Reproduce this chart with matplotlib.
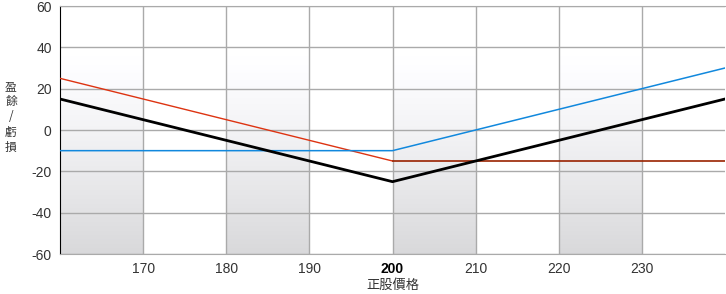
import matplotlib
matplotlib.use("Agg")
import matplotlib.pyplot as plt
import numpy as np

plt.rcParams['font.family'] = ['Liberation Sans', 'Noto Sans CJK TC', 'DejaVu Sans']
plt.rcParams['axes.unicode_minus'] = False

# payoff data (price -> profit/loss)
prices = [160, 200, 240]
total_pl = [15, -25, 15]          # black, combined
call_pl = [-10, -10, 30]          # blue
put_pl_left = [25, -15]           # red, falling part
put_pl_right = [-15, -15]         # dark red, flat part
put_x_left = [160, 200]
put_x_right = [200, 240]

xticks = [170, 180, 190, 200, 210, 220, 230]
yticks = [-60, -40, -20, 0, 20, 40, 60]
shaded_bands = [(160, 170), (180, 190), (200, 210), (220, 230)]

fig = plt.figure(figsize=(7.26, 2.94), dpi=100)
ax = fig.add_axes([60 / 726, 40 / 294, 665 / 726, 248 / 294])
ax.set_xlim(160, 240)
ax.set_ylim(-60, 60)

# gradient bands: white at top, fading to light gray at bottom
t = np.linspace(0, 1, 256)
g = 1.0 - 0.15 * np.clip((t - 0.2) / 0.8, 0, 1) ** 1.2
grad_rgb = np.dstack([g, g, np.clip(g + 0.008, 0, 1)]).reshape(-1, 1, 3)
for x0, x1 in shaded_bands:
    ax.imshow(grad_rgb, extent=[x0, x1, -60, 60], aspect='auto', zorder=0, origin='upper')

ax.set_xticks(xticks)
ax.set_yticks(yticks)
ax.grid(True, color='#aaaaaa', linewidth=1)
ax.set_axisbelow(True)
ax.tick_params(length=0, labelsize=10, colors='#333333', pad=6)
for lbl in ax.get_xticklabels():
    if lbl.get_text() == '200':
        lbl.set_fontweight('bold')
        lbl.set_color('#000000')

for side in ['top', 'right', 'bottom']:
    ax.spines[side].set_color('#aaaaaa')
ax.spines['right'].set_visible(False)
ax.spines['left'].set_color('#000000')

ax.plot(put_x_left, put_pl_left, color='#dd3311', linewidth=1, zorder=3)
ax.plot(put_x_right, put_pl_right, color='#992200', linewidth=1.2, zorder=3)
ax.plot(prices, call_pl, color='#1188dd', linewidth=1.1, zorder=3)
ax.plot(prices, total_pl, color='#000000', linewidth=2, zorder=4)

ax.set_xlabel('正股價格', fontsize=9.5, color='#333333', labelpad=2,
              family=['Noto Sans CJK TC', 'DejaVu Sans'])
fig.text(11 / 726, 1 - 117 / 294, '盈\n餘\n/\n虧\n損', ha='center', va='center',
         fontsize=8.5, color='#333333', linespacing=1.2,
         family=['Noto Sans CJK TC', 'DejaVu Sans'])

fig.savefig('out.png', dpi=100)
